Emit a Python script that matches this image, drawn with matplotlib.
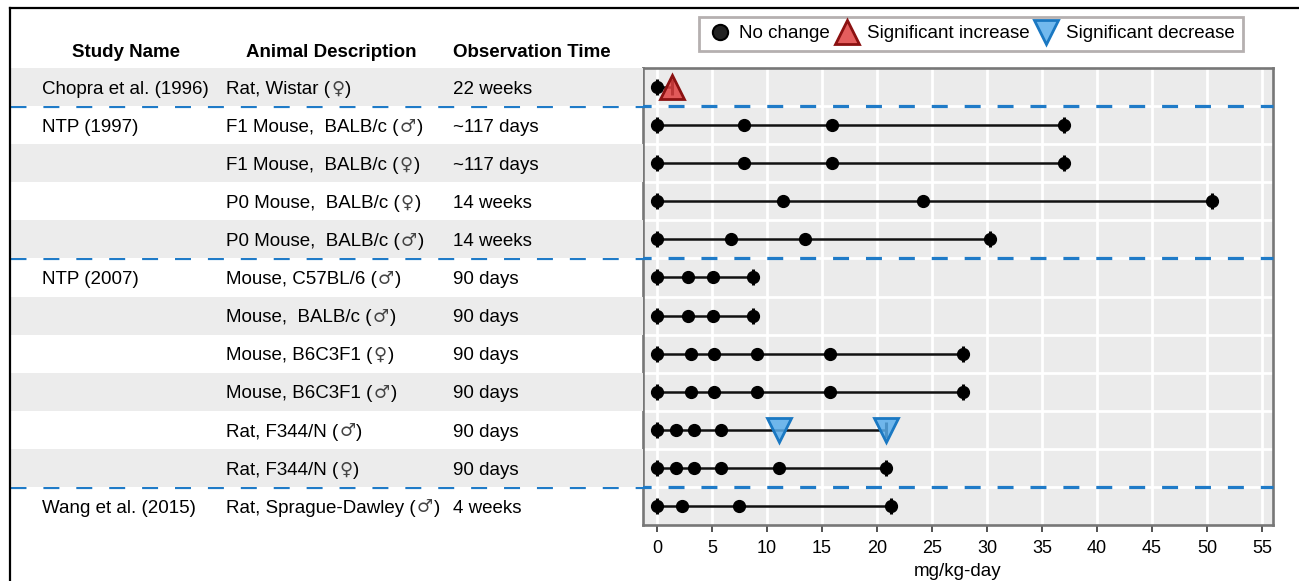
import matplotlib
matplotlib.use("Agg")
import matplotlib.pyplot as plt
from matplotlib.lines import Line2D
from matplotlib.transforms import blended_transform_factory

plt.rcParams['font.family'] = ['Liberation Sans', 'DejaVu Sans']

# table columns
studies = ["Chopra et al. (1996)", "NTP (1997)", "", "", "", "NTP (2007)",
           "", "", "", "", "", "Wang et al. (2015)"]
animals = ["Rat, Wistar (\u2640)",
           "F1 Mouse,  BALB/c (\u2642)",
           "F1 Mouse,  BALB/c (\u2640)",
           "P0 Mouse,  BALB/c (\u2640)",
           "P0 Mouse,  BALB/c (\u2642)",
           "Mouse, C57BL/6 (\u2642)",
           "Mouse,  BALB/c (\u2642)",
           "Mouse, B6C3F1 (\u2640)",
           "Mouse, B6C3F1 (\u2642)",
           "Rat, F344/N (\u2642)",
           "Rat, F344/N (\u2640)",
           "Rat, Sprague-Dawley (\u2642)"]
obs_times = ["22 weeks", "~117 days", "~117 days", "14 weeks", "14 weeks",
             "90 days", "90 days", "90 days", "90 days", "90 days", "90 days",
             "4 weeks"]

# doses (mg/kg-day) and effect at each dose: n = no change, i = increase, d = decrease
doses = [[0, 1.4],
         [0, 7.9, 15.9, 37.0],
         [0, 7.9, 15.9, 37.0],
         [0, 11.5, 24.2, 50.5],
         [0, 6.7, 13.5, 30.3],
         [0, 2.85, 5.1, 8.7],
         [0, 2.85, 5.1, 8.7],
         [0, 3.1, 5.2, 9.1, 15.7, 27.8],
         [0, 3.1, 5.2, 9.1, 15.7, 27.8],
         [0, 1.7, 3.4, 5.8, 11.1, 20.8],
         [0, 1.7, 3.4, 5.8, 11.1, 20.8],
         [0, 2.3, 7.5, 21.3]]
effects = [["n", "i"],
           ["n"] * 4, ["n"] * 4, ["n"] * 4, ["n"] * 4,
           ["n"] * 4, ["n"] * 4, ["n"] * 6, ["n"] * 6,
           ["n", "n", "n", "n", "d", "d"],
           ["n"] * 6,
           ["n"] * 4]
group_breaks = [0.5, 4.5, 10.5]
xticks = list(range(0, 60, 5))

W, H = 1299, 581
fig = plt.figure(figsize=(W / 100, H / 100), dpi=100)
renderer = fig.canvas.get_renderer()

pl, pr, pt, pb = 643, 1273, 68, 525
ax = fig.add_axes([pl / W, 1 - pb / H, (pr - pl) / W, (pb - pt) / H])
tab = fig.add_axes([10 / W, 1 - pb / H, (pl - 10) / W, (pb - pt) / H])

n = len(animals)
for a in (ax, tab):
    a.set_ylim(n - 0.5, -0.5)

# table
tab.set_xlim(10, pl)
tab.axis('off')
dy = 0.06


def text_with_symbol(x, y, s):
    # sex symbols drawn in DejaVu (taller, thinner look than Liberation's glyphs)
    pieces = []
    buf = ""
    for ch in s:
        if ch in "\u2640\u2642":
            pieces.append((buf, False))
            pieces.append((ch, True))
            buf = ""
        else:
            buf += ch
    pieces.append((buf, False))
    inv = tab.transData.inverted()
    for txt, sym in pieces:
        if not txt:
            continue
        if sym:
            t = tab.text(x + 1, y - 0.02, txt, va='center', ha='left', fontsize=13,
                         family=['DejaVu Sans'], color='#444444')
        else:
            t = tab.text(x, y, txt, va='center', ha='left', fontsize=13.5)
        bb = t.get_window_extent(renderer)
        x = inv.transform((bb.x1, 0))[0] + (1 if sym else 0)


for i in range(n):
    if i % 2 == 0:
        tab.axhspan(i - 0.5, i + 0.5, color='#ececec', lw=0)
    tab.text(42, i + dy, studies[i], va='center', ha='left', fontsize=13.5)
    text_with_symbol(226, i + dy, animals[i])
    tab.text(453, i + dy, obs_times[i], va='center', ha='left', fontsize=13.5)
hy = -0.92
tab.text(126, hy, "Study Name", ha='center', va='center', fontsize=13.5, fontweight='bold', clip_on=False)
tab.text(331, hy, "Animal Description", ha='center', va='center', fontsize=13.5, fontweight='bold', clip_on=False)
tab.text(532, hy, "Observation Time", ha='center', va='center', fontsize=13.5, fontweight='bold', clip_on=False)

# dose panel
ax.set_facecolor('#ebebeb')
ax.set_xlim(-1.27, 56.0)
ax.set_xticks(xticks)
ax.set_yticks([])
for x in xticks:
    ax.axvline(x, color='white', lw=2.0, zorder=0)
for i in range(n - 1):
    ax.axhline(i + 0.5, color='white', lw=2.0, zorder=0)
for s in ax.spines.values():
    s.set_color('#777777')
    s.set_linewidth(1.9)
ax.tick_params(axis='x', length=5, width=1.2, color='#333333', labelsize=13, pad=6)
ax.set_xlabel("mg/kg-day", fontsize=13.5, labelpad=4)

for i, (d, e) in enumerate(zip(doses, effects)):
    ax.plot([d[0], d[-1]], [i, i], color='#111111', lw=1.8, zorder=2)
    ax.plot([d[0], d[-1]], [i, i], ls='none', marker='|', ms=12, mew=2.2, color='black', zorder=3)
    for x, ef in zip(d, e):
        if ef == 'n':
            ax.plot(x, i, marker='o', ms=8.5, color='black', zorder=4)
        elif ef == 'i':
            ax.plot(x, i, marker='^', ms=17, mfc=(0.88, 0.25, 0.25, 0.85), mec='#8b1111', mew=2, zorder=5)
        else:
            ax.plot(x, i, marker='v', ms=17, mfc=(0.35, 0.68, 0.92, 0.85), mec='#1a78c2', mew=2, zorder=5)

# dashed separators across table and panel
tr = blended_transform_factory(fig.transFigure, ax.transData)
for b in group_breaks:
    ax.plot([10 / W, pr / W], [b, b], transform=tr, color='#1f7bc8', lw=2.3,
            dashes=(5, 5.3), clip_on=False, zorder=6)

# legend
handles = [Line2D([], [], ls='none', marker='o', ms=11, mfc='#222222', mec='black', mew=1.5),
           Line2D([], [], ls='none', marker='^', ms=17, mfc=(0.88, 0.25, 0.25, 0.85), mec='#8b1111', mew=2),
           Line2D([], [], ls='none', marker='v', ms=17, mfc=(0.35, 0.68, 0.92, 0.85), mec='#1a78c2', mew=2)]
leg = fig.legend(handles, ["No change", "Significant increase", "Significant decrease"],
                 loc='center', bbox_to_anchor=(971 / W, 1 - 33.5 / H), ncol=3, fontsize=13.5,
                 frameon=True, fancybox=False, handlelength=1.3, handletextpad=0.4,
                 columnspacing=0.25, borderpad=0.45, borderaxespad=0)
leg.get_frame().set_edgecolor('#a39c9c')
leg.get_frame().set_linewidth(2.0)

# outer border (top and left)
fig.add_artist(Line2D([10 / W, 1], [1 - 8 / H, 1 - 8 / H], color='black', lw=1.6))
fig.add_artist(Line2D([10 / W, 10 / W], [0, 1 - 8 / H], color='black', lw=1.6))

fig.savefig("out.png", dpi=100)
